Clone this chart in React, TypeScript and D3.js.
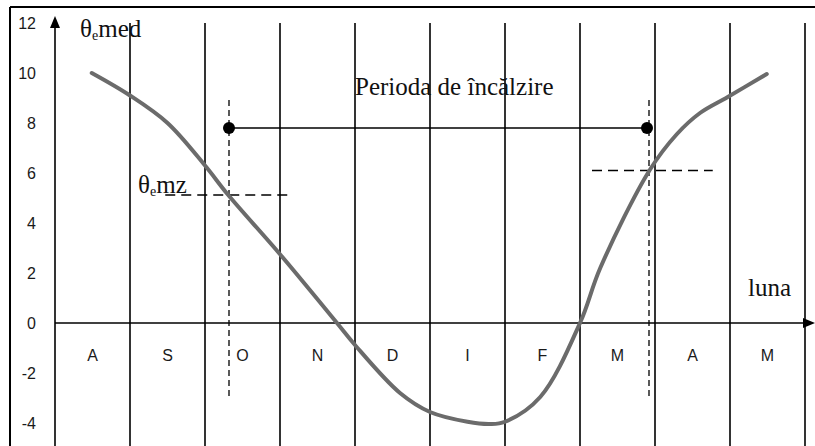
import React from 'react';
import * as d3 from 'd3';

// months along the x axis (August .. May)
const months = ['A', 'S', 'O', 'N', 'D', 'I', 'F', 'M', 'A', 'M'];
const yTicks = [-4, -2, 0, 2, 4, 6, 8, 10, 12];

// mean outdoor temperature curve: x in month units, value in °C
const curveMonth = [0.49, 1.0, 1.5, 2.0, 2.31, 3.0, 3.76, 4.0, 4.6, 5.0, 5.5, 5.8, 6.0, 6.47, 7.0, 7.27, 7.93, 8.29, 8.6, 8.97, 9.49];
const curveTemp = [10, 9.1, 8.0, 6.3, 5.12, 2.75, 0, -0.88, -2.8, -3.56, -3.95, -4.04, -3.95, -2.96, 0, 2.2, 6.12, 7.55, 8.4, 9.04, 9.96];

// heating period markers
const heatStart = 2.32;
const heatEnd = 7.92;
const periodLevel = 7.8;
const thetaEmz = [5.12, 6.1];
const emzSpan = [[1.47, 3.11], [7.16, 8.77]];

const W = 815;
const H = 446;

const App = () => {
  const x = d3.scaleLinear().domain([0, 10]).range([55, 805]);
  const y = d3.scaleLinear().domain([-4, 12]).range([423, 23]);

  const pts = curveMonth.map((m, i) => [m, curveTemp[i]] as [number, number]);
  const line = d3.line<[number, number]>()
    .x(d => x(d[0]))
    .y(d => y(d[1]))
    .curve(d3.curveCatmullRom.alpha(0.5));

  const sans = '"Liberation Sans", Arial, sans-serif';
  const serif = '"Liberation Serif", "Times New Roman", serif';

  return (
    <svg width={W} height={H} style={{ position: 'absolute', left: 0, top: 0, background: '#fff' }}>
      {/* frame */}
      <line x1={10} y1={7} x2={W} y2={7} stroke="#000" strokeWidth={2} />
      <line x1={10} y1={7} x2={10} y2={H} stroke="#000" strokeWidth={2} />

      {/* month separators */}
      {d3.range(1, 11).map(i => (
        <line key={i} x1={x(i)} x2={x(i)} y1={23} y2={H} stroke="#000" strokeWidth={1.6} />
      ))}

      {/* y axis with arrow */}
      <line x1={x(0)} x2={x(0)} y1={H} y2={26} stroke="#000" strokeWidth={1.6} />
      <path d={`M${x(0) - 5},${28} L${x(0)},${16} L${x(0) + 5},${28} Z`} fill="#000" />

      {/* x axis with arrow */}
      <line x1={x(0)} x2={806} y1={y(0)} y2={y(0)} stroke="#000" strokeWidth={1.6} />
      <path d={`M${803},${y(0) - 5} L${815},${y(0)} L${803},${y(0) + 5} Z`} fill="#000" />

      {/* y tick labels */}
      {yTicks.map(t => (
        <text key={t} x={36} y={y(t)} dy="0.35em" textAnchor="end" fontFamily={sans} fontSize={16} fill="#1a1a1a">
          {t}
        </text>
      ))}

      {/* month labels */}
      {months.map((m, i) => (
        <text key={i} x={x(i + 0.5)} y={y(0) + 32} dy="0.35em" textAnchor="middle" fontFamily={sans} fontSize={16} fill="#1a1a1a">
          {m}
        </text>
      ))}

      {/* dashed markers */}
      {[heatStart, heatEnd].map((m, i) => (
        <line key={'v' + i} x1={x(m)} x2={x(m)} y1={100} y2={397} stroke="#000" strokeWidth={1.3} strokeDasharray="6,4" />
      ))}
      {emzSpan.map((s, i) => (
        <line key={'h' + i} x1={x(s[0])} x2={x(s[1])} y1={y(thetaEmz[i])} y2={y(thetaEmz[i])} stroke="#000" strokeWidth={1.3} strokeDasharray="10,6" />
      ))}

      {/* heating period */}
      <line x1={x(heatStart)} x2={x(heatEnd) - 2} y1={y(periodLevel)} y2={y(periodLevel)} stroke="#000" strokeWidth={1.3} />
      <circle cx={x(heatStart)} cy={y(periodLevel)} r={6} fill="#000" />
      <circle cx={x(heatEnd) - 2} cy={y(periodLevel)} r={6} fill="#000" />

      {/* temperature curve */}
      <path d={line(pts) || ''} fill="none" stroke="#6b6b6b" strokeWidth={4} strokeLinecap="round" />

      {/* annotations */}
      <text x={80} y={37} fontFamily={serif} fontSize={25} fill="#111">
        θ<tspan fontSize={14} dy={3}>e</tspan><tspan dy={-3}>med</tspan>
      </text>
      <text x={138} y={193} fontFamily={serif} fontSize={25} fill="#111">
        θ<tspan fontSize={14} dy={3}>e</tspan><tspan dy={-3}>mz</tspan>
      </text>
      <text x={355} y={95} fontFamily={serif} fontSize={25} fill="#111">Perioda de încălzire</text>
      <text x={748} y={296} fontFamily={serif} fontSize={25} fill="#111">luna</text>
    </svg>
  );
};

export default App;
